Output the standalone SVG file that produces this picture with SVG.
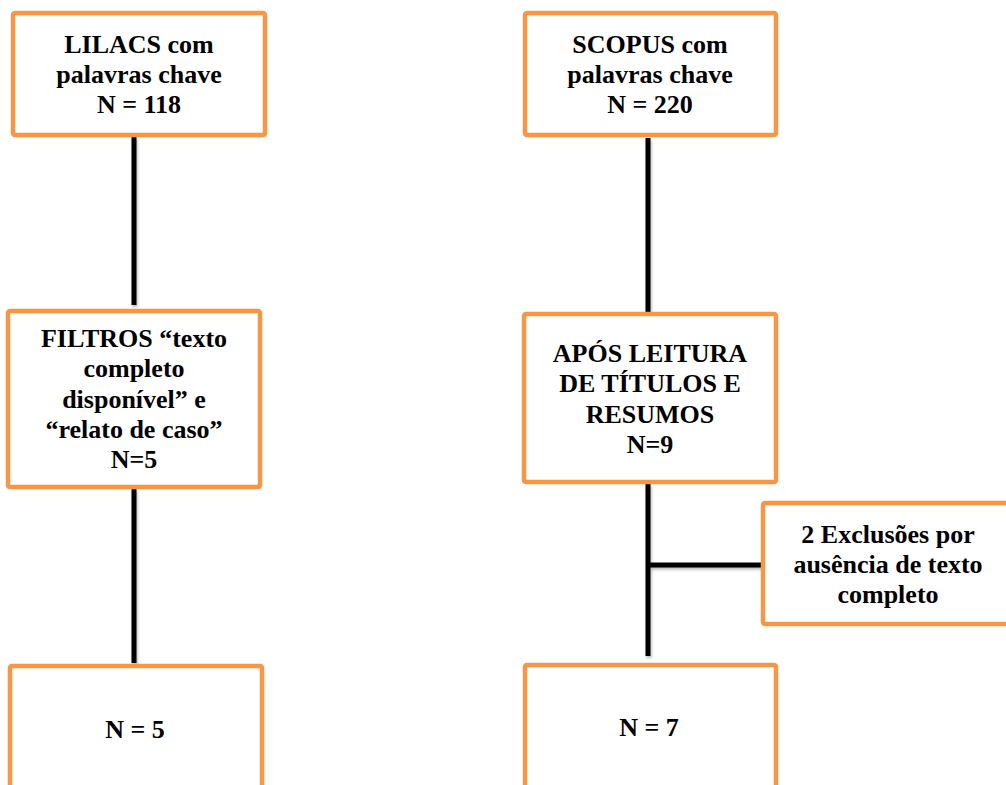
<svg xmlns="http://www.w3.org/2000/svg" width="1006" height="785" viewBox="0 0 1006 785">
<defs>
<filter id="sh" x="-50%" y="-50%" width="200%" height="200%">
<feGaussianBlur in="SourceAlpha" stdDeviation="1.5"/>
<feOffset dx="1" dy="2" result="b"/>
<feComponentTransfer><feFuncA type="linear" slope="0.3"/></feComponentTransfer>
<feMerge><feMergeNode/><feMergeNode in="SourceGraphic"/></feMerge>
</filter>
</defs>
<style>
.box{fill:#ffffff;stroke:#F79646;stroke-width:4.5}
.ln{stroke:#000000;stroke-width:5;fill:none}
text{font-family:"Liberation Serif","Times New Roman",serif;font-weight:bold;font-size:26px;fill:#000000;text-anchor:middle}
</style>
<rect width="1006" height="785" fill="#ffffff"/>
<g id="connectors" filter="url(#sh)">
<line class="ln" x1="134" y1="137" x2="134" y2="305"/>
<line class="ln" x1="134" y1="489" x2="134" y2="663"/>
<line class="ln" x1="648" y1="138" x2="648" y2="312"/>
<line class="ln" x1="648" y1="484" x2="648" y2="656"/>
<line class="ln" x1="646" y1="565" x2="763" y2="565"/>
</g>
<g id="lilacs">
<rect class="box" x="13" y="13" width="252" height="122" rx="2"/>
<text x="139" y="53">LILACS com</text>
<text x="139" y="83">palavras chave</text>
<text x="139" y="113">N = 118</text>
</g>
<g id="scopus">
<rect class="box" x="525" y="13" width="251" height="122" rx="2"/>
<text x="650" y="53">SCOPUS com</text>
<text x="650" y="83">palavras chave</text>
<text x="650" y="113">N = 220</text>
</g>
<g id="filtros">
<rect class="box" x="8" y="311" width="252" height="176" rx="2"/>
<text x="134" y="347">FILTROS “texto</text>
<text x="134" y="377">completo</text>
<text x="134" y="408">disponível” e</text>
<text x="134" y="438">“relato de caso”</text>
<text x="134" y="468">N=5</text>
</g>
<g id="apos">
<rect class="box" x="524" y="314" width="252" height="168" rx="2"/>
<text x="650" y="362">APÓS LEITURA</text>
<text x="650" y="392">DE TÍTULOS E</text>
<text x="650" y="423">RESUMOS</text>
<text x="650" y="453">N=9</text>
</g>
<g id="exclusoes">
<rect class="box" x="763" y="503" width="250" height="121" rx="2"/>
<text x="888" y="543">2 Exclusões por</text>
<text x="888" y="573">ausência de texto</text>
<text x="888" y="603">completo</text>
</g>
<g id="lilacs-final">
<rect class="box" x="10" y="666" width="252" height="150" rx="2"/>
<text x="135" y="738">N = 5</text>
</g>
<g id="scopus-final">
<rect class="box" x="525" y="665" width="251" height="150" rx="2"/>
<text x="649" y="736">N = 7</text>
</g>
</svg>
